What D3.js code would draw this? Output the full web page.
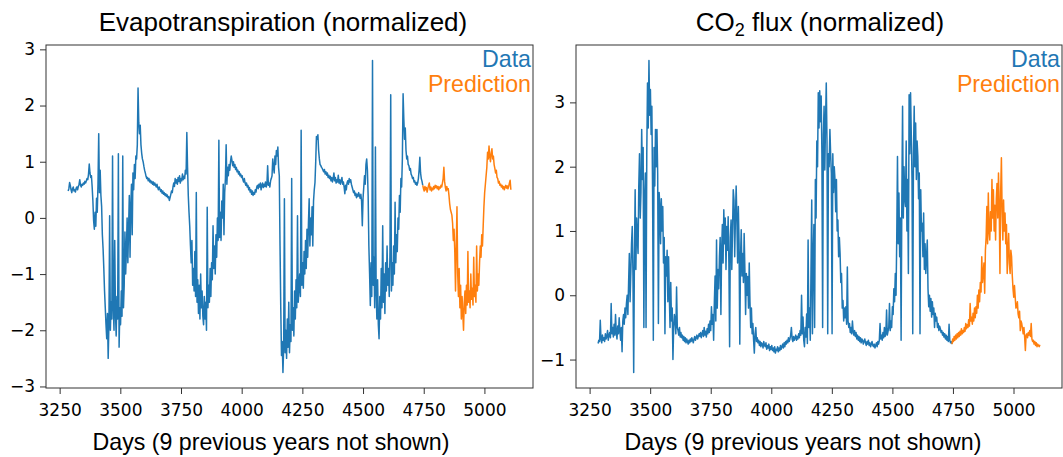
<!DOCTYPE html>
<html lang="en">
<head>
    <meta charset="UTF-8">
    <title>Evapotranspiration and CO2 flux</title>
    <script src="https://d3js.org/d3.v7.min.js"></script>
    <style>
        body { margin: 0; background: #fff; }
        svg text { font-family: "Liberation Sans", Arial, sans-serif; fill: #000; }
    </style>
</head>
<body>
    <div id="chart"></div>
    <script>
        // one value every 3 days
        const step = 3;
        const dataStart = 3285;
        const predStart = 4746;

        const xTicks = [3250, 3500, 3750, 4000, 4250, 4500, 4750, 5000];
        const etYTicks = [-3, -2, -1, 0, 1, 2, 3];
        const co2YTicks = [-1, 0, 1, 2, 3];

        // Evapotranspiration (normalized), observed, days 3285..4746 (20 values = 60 days per row)
        const etData = [
            0.48, 0.52, 0.63, 0.58, 0.50, 0.45, 0.52, 0.55, 0.48, 0.50, 0.46, 0.53, 0.55, 0.50, 0.56, 0.60, 0.68, 0.58, 0.55, 0.60,
            0.58, 0.62, 0.60, 0.65, 0.62, 0.66, 0.70, 0.68, 0.78, 0.96, 0.80, 0.72, 0.75, 0.55, 0.30, -0.05, -0.20, 0.10, -0.15, 0.35,
            0.10, 0.60, 1.50, 0.45, 0.85, 0.40, 0.20, -0.30, -0.55, -0.90, -1.30, -1.60, -1.90, -2.15, -1.70, -2.50, -1.90, 0.04, -2.00, -1.50,
            -1.80, 1.10, -1.60, -2.00, -0.40, -1.70, -2.10, -1.40, -1.80, 1.14, -2.30, -1.60, -1.90, -1.30, -1.75, 1.10, -1.60, -1.20, -0.25, -1.00,
            -0.60, 0.00, -0.80, -0.20, 0.40, -0.70, 0.20, 0.60, -0.30, 0.80, 0.50, 0.95, 0.70, 1.10, 1.05, 1.30, 2.31, 1.70, 1.50, 1.65,
            1.30, 1.15, 1.05, 1.00, 0.92, 0.85, 0.80, 0.74, 0.70, 0.72, 0.66, 0.70, 0.64, 0.67, 0.62, 0.65, 0.60, 0.64, 0.58, 0.62,
            0.58, 0.55, 0.60, 0.54, 0.50, 0.55, 0.52, 0.47, 0.50, 0.44, 0.48, 0.42, 0.45, 0.40, 0.43, 0.38, 0.41, 0.36, 0.38, 0.31,
            0.36, 0.42, 0.48, 0.45, 0.55, 0.62, 0.56, 0.70, 0.62, 0.68, 0.60, 0.72, 0.65, 0.75, 0.62, 0.70, 0.66, 0.78, 0.68, 0.74,
            0.70, 0.85, 0.78, 1.52, 0.90, 0.40, 0.10, -0.15, -0.50, -0.80, -0.40, -1.20, -0.90, -1.30, -0.60, -1.40, 0.45, -1.50, -1.10, -1.70,
            -1.20, -1.80, -1.00, -1.60, -1.30, -1.75, -1.90, -1.40, -1.80, -1.50, -2.00, 0.19, -1.60, -1.20, -1.50, -0.90, -1.40, -0.80, -1.10, -0.14,
            -0.90, -0.50, -1.00, -0.30, -0.70, 0.00, -0.40, 1.38, -0.35, 0.10, -0.40, 0.30, 0.00, 0.60, -0.30, 0.45, 0.70, 1.30, 0.60, 0.90,
            0.75, 0.95, 0.85, 1.00, 1.10, 1.02, 0.93, 1.00, 0.90, 0.95, 0.86, 0.90, 0.82, 0.85, 0.78, 0.82, 0.75, 0.78, 0.72, 0.75,
            0.68, 0.64, 0.70, 0.62, 0.58, 0.62, 0.55, 0.58, 0.50, 0.54, 0.46, 0.50, 0.42, 0.48, 0.40, 0.45, 0.42, 0.50, 0.46, 0.55,
            0.58, 0.52, 0.60, 0.55, 0.62, 0.50, 0.58, 0.62, 0.54, 0.60, 0.56, 0.64, 0.55, 0.60, 0.93, 0.58, 0.62, 0.55, 0.66, 0.70,
            0.75, 1.05, 0.90, 0.80, 1.10, 0.95, 1.20, 1.10, 1.26, 0.90, 0.75, -0.50, -1.60, -2.45, -2.20, -2.75, -2.30, 0.34, -2.40, -2.00,
            -2.50, -1.80, -2.30, -1.50, -2.40, -1.90, -2.20, 0.70, -2.00, -1.60, -2.10, -1.30, -1.80, -1.10, -1.60, 0.04, -1.50, -1.25, -1.00, -1.40,
            1.56, -1.20, -0.80, -1.25, -0.60, -1.00, -0.40, -0.90, -0.20, -0.70, -0.10, 0.34, -0.50, 0.00, -0.30, 0.20, -0.50, 0.30, 0.50, 0.63,
            1.00, 1.45, 1.40, 1.48, 1.20, 1.05, 0.95, 0.93, 0.90, 0.88, 0.85, 0.82, 0.86, 0.78, 0.82, 0.76, 0.80, 0.72, 0.76, 0.70,
            0.74, 0.66, 0.72, 0.64, 0.70, 0.80, 0.66, 0.72, 0.62, 0.68, 0.64, 0.76, 0.62, 0.68, 0.60, 0.66, 0.72, 0.60, 0.64, 0.55,
            0.43, 0.58, 0.50, 0.62, 0.66, 0.60, 0.70, 0.64, 0.68, 0.60, 0.55, 0.50, 0.45, 0.48, 0.40, 0.44, 0.36, 0.42, 0.38, 0.45,
            0.40, 0.35, 0.42, 0.30, -0.14, 0.35, 0.55, 0.75, 0.60, 0.95, 1.05, 0.85, 0.40, -0.50, -1.00, -1.56, -0.80, -1.40, 2.80, -1.20,
            -0.70, -1.60, 1.26, -1.30, -1.80, -1.10, -1.90, -2.15, -1.40, -1.80, -0.90, -1.60, -0.14, -1.50, -1.00, -1.70, -0.80, -1.30, -0.50, -1.20,
            -0.90, -1.40, -0.60, 2.19, -1.30, -0.80, -1.20, -0.50, -1.00, 0.28, -0.80, -0.30, -0.60, 0.00, -0.20, 0.40, 0.10, 0.70, 0.55, 1.05,
            2.21, 1.76, 1.40, 1.60, 1.20, 1.05, 1.10, 0.95, 0.93, 0.85, 0.88, 0.78, 0.75, 0.70, 0.72, 0.64, 0.66, 0.60, 0.63, 0.58,
            0.62, 0.70, 0.85, 1.08, 0.80, 0.70, 0.65, 0.58
        ];
        // Evapotranspiration, prediction, days 4746..5109
        const etPred = [
            0.58, 0.52, 0.48, 0.56, 0.50, 0.54, 0.46, 0.52, 0.58, 0.62, 0.50, 0.55, 0.48, 0.53, 0.50, 0.56, 0.52, 0.58, 0.54, 0.57,
            0.52, 0.56, 0.50, 0.55, 0.53, 0.58, 0.55, 0.62, 0.70, 0.90, 0.65, 0.55, 0.48, 0.56, 0.50, 0.52, 0.40, 0.25, 0.15, 0.10,
            0.05, -0.10, -0.40, -0.20, -0.60, -1.30, -0.50, 0.20, -1.00, -1.40, -0.90, -1.60, -1.20, -1.80, -1.40, -1.70, -2.00, -1.50, -1.30, -1.70,
            -1.20, -1.55, -0.60, -1.50, -1.30, -1.60, -1.00, -1.45, -1.25, -1.55, -0.70, -1.40, -1.20, -1.50, -0.50, -1.30, -1.00, -1.20, -0.80, -0.50,
            -0.70, -0.30, -0.50, -0.14, 0.20, 0.45, 0.60, 0.75, 0.90, 1.17, 1.05, 1.28, 1.10, 1.00, 1.15, 1.23, 1.05, 1.10, 0.95, 0.88,
            0.80, 0.85, 0.72, 0.70, 0.62, 0.65, 0.58, 0.60, 0.55, 0.58, 0.52, 0.56, 0.50, 0.55, 0.58, 0.53, 0.57, 0.52, 0.56, 0.62,
            0.67, 0.50
        ];

        // CO2 flux (normalized), observed, days 3285..4746
        const co2Data = [
            -0.75, -0.70, -0.72, -0.39, -0.68, -0.74, -0.62, -0.70, -0.66, -0.72, -0.60, -0.68, -0.64, -0.55, -0.70, -0.62, -0.58, -0.66, -0.13, -0.60,
            -0.50, -0.65, -0.45, -0.62, -0.30, -0.58, -0.68, -0.48, -0.60, -0.35, -0.55, -0.70, -0.50, -0.88, -0.40, -0.30, -0.45, -0.20, -0.35, -0.13,
            0.00, -0.30, 0.20, 0.65, -0.10, 0.34, 0.80, 1.07, 0.30, -1.20, 0.60, 1.64, 0.40, 1.20, 0.90, 0.65, 1.70, 2.20, 1.20, 1.60,
            2.58, 1.80, 2.30, -0.50, 1.50, 1.90, -0.50, 2.20, 3.30, 2.60, 3.65, 2.80, 3.20, 2.50, 2.94, 1.60, -0.70, 2.30, 1.70, 2.58,
            2.00, 2.58, 1.90, -0.44, 1.60, 1.38, 0.80, 1.50, 1.00, 1.38, 0.50, 0.90, -0.60, 0.60, 0.30, 0.70, -0.10, 0.60, 0.00, -0.50,
            0.20, -0.40, -0.20, -1.00, -0.50, -0.30, -0.40, -0.60, 0.13, -0.50, -0.55, -0.62, -0.50, -0.65, -0.58, -0.66, -0.62, -0.70, -0.64, -0.72,
            -0.66, -0.74, -0.68, -0.72, -0.76, -0.70, -0.74, -0.68, -0.72, -0.66, -0.70, -0.74, -0.68, -0.64, -0.70, -0.66, -0.62, -0.68, -0.64, -0.60,
            -0.64, -0.58, -0.66, -0.60, -0.55, -0.64, -0.50, -0.62, -0.56, -0.65, -0.52, -0.60, -0.45, -0.58, -0.40, -0.55, -0.18, -0.45, -0.30, -0.70,
            -0.10, 0.30, -0.40, 0.86, -0.20, 0.40, 0.10, 0.60, 0.90, -0.30, 0.70, 1.10, 0.50, 1.33, 0.80, 1.20, 0.40, 1.07, 0.70, 1.22,
            0.50, -0.80, 0.90, 1.17, 0.40, 1.00, 1.64, 1.48, 0.60, 1.20, 1.70, 1.17, 0.50, 1.38, 0.80, -0.76, 0.60, 1.02, 0.30, 0.65,
            0.20, 0.96, 0.40, -0.30, 0.34, 0.00, 0.29, -0.20, 0.50, -0.10, -0.50, -0.20, -0.60, -0.44, -0.70, -0.90, -0.60, -0.50, -0.72, -0.66,
            -0.74, -0.70, -0.78, -0.72, -0.80, -0.74, -0.76, -0.82, -0.72, -0.78, -0.80, -0.74, -0.84, -0.78, -0.82, -0.76, -0.86, -0.80, -0.84, -0.78,
            -0.86, -0.82, -0.88, -0.80, -0.90, -0.84, -0.86, -0.80, -0.88, -0.82, -0.86, -0.78, -0.84, -0.80, -0.76, -0.82, -0.74, -0.80, -0.72, -0.76,
            -0.70, -0.74, -0.66, -0.72, -0.68, -0.62, -0.50, -0.68, -0.72, -0.64, -0.70, -0.66, -0.62, -0.70, -0.64, -0.68, -0.60, -0.66, -0.55, -0.62,
            0.00, -0.60, -0.34, -0.70, -0.80, -0.50, -0.65, -0.29, -0.75, 0.86, -0.50, -0.20, -0.70, 0.40, 1.48, -0.60, 0.60, 1.10, -0.50, 1.80,
            1.20, 2.40, 2.00, 3.15, 2.60, 3.18, 2.70, 3.10, 2.20, -0.50, 2.50, 2.94, 1.95, 2.70, 3.30, 2.40, -0.60, 2.20, 2.00, 2.58,
            2.20, 1.90, -0.60, 2.20, 1.60, 2.00, 1.80, 1.30, 1.80, 1.00, 1.17, 0.60, 0.90, 0.65, 0.20, 0.34, -0.20, -0.08, -0.40, -0.20,
            -0.35, -0.18, -0.45, 0.44, -0.40, -0.50, -0.44, -0.58, -0.50, -0.60, -0.40, -0.56, -0.62, -0.55, -0.64, -0.58, -0.68, -0.62, -0.70, -0.64,
            -0.72, -0.66, -0.74, -0.68, -0.70, -0.76, -0.72, -0.68, -0.74, -0.78, -0.72, -0.76, -0.70, -0.78, -0.74, -0.80, -0.76, -0.72, -0.78, -0.80,
            -0.76, -0.82, -0.78, -0.74, -0.80, -0.72, -0.76, -0.70, -0.44, -0.68, -0.62, -0.70, -0.58, -0.66, -0.50, -0.64, -0.60, -0.23, -0.62, -0.56,
            -0.50, -0.13, -0.55, -0.40, -0.50, -0.18, -0.30, 0.10, -0.10, 0.34, 0.00, 0.90, 2.16, 0.80, 1.59, 0.60, 1.20, -0.70, 1.50, 2.94,
            1.20, 2.00, 1.50, 1.38, 2.40, 1.00, 1.80, 0.34, 3.12, 2.20, 3.15, 2.50, 1.80, -0.60, 2.20, 2.94, 2.00, 2.68, 1.80, 2.40,
            2.16, 1.50, 1.90, -0.60, 1.64, 1.00, 1.12, 0.60, 1.28, 0.40, 0.80, 0.34, 0.60, 0.86, 0.10, -0.18, 0.00, -0.25, -0.05, -0.34,
            -0.10, -0.30, -0.20, -0.50, -0.28, -0.40, -0.34, -0.50, -0.44, -0.55, -0.48, -0.52, -0.58, -0.55, -0.62, -0.58, -0.65, -0.60, -0.68, -0.62,
            -0.70, -0.64, -0.72, -0.45, -0.70, -0.74, -0.72, -0.76
        ];
        // CO2 flux, prediction, days 4746..5109
        const co2Pred = [
            -0.76, -0.68, -0.72, -0.64, -0.70, -0.62, -0.68, -0.60, -0.66, -0.58, -0.64, -0.56, -0.62, -0.52, -0.60, -0.55, -0.58, -0.50, -0.56, -0.44,
            -0.52, -0.46, -0.50, -0.38, -0.48, -0.13, -0.40, -0.34, -0.45, -0.28, -0.40, -0.20, -0.35, -0.18, -0.28, 0.00, -0.20, 0.08, -0.10, 0.20,
            0.05, 0.60, 0.20, 0.34, 0.50, 0.03, 0.70, 0.90, 1.38, 0.80, 1.59, 1.00, 0.86, 1.30, 1.00, 1.80, 1.20, 1.64, 1.00, 1.40,
            0.86, 1.50, 1.74, 1.20, 1.90, 1.40, 0.34, 1.60, 2.14, 1.30, 0.86, 1.48, 1.00, 1.28, 0.80, 1.10, 0.34, 0.70, 0.96, 0.50,
            0.34, 0.70, 0.60, 0.30, 0.10, -0.03, 0.15, -0.03, -0.20, -0.18, -0.10, -0.29, -0.35, -0.25, -0.55, -0.40, -0.44, -0.52, -0.60, -0.50,
            -0.65, -0.86, -0.62, -0.60, -0.66, -0.58, -0.62, -0.55, -0.64, -0.44, -0.68, -0.72, -0.70, -0.76, -0.72, -0.78, -0.74, -0.80, -0.76, -0.78,
            -0.80, -0.77
        ];

        const width = 1063, height = 457;
        const plotTop = 45, plotBottom = 388;
        const blue = "#1f77b4", orange = "#ff7f0e";

        const svg = d3.select("#chart").append("svg")
            .attr("width", width)
            .attr("height", height);

        function toPoints(vals, start) {
            return vals.map((v, i) => [start + i * step, v]);
        }

        function drawPanel(p) {
            const obs = toPoints(p.data, dataStart);
            const pred = toPoints(p.pred, predStart);
            const all = obs.concat(pred);

            // 5% margins around the data, as matplotlib does
            const xe = d3.extent(all, d => d[0]);
            const ye = d3.extent(all, d => d[1]);
            const xp = (xe[1] - xe[0]) * 0.05, yp = (ye[1] - ye[0]) * 0.05;

            const x = d3.scaleLinear().domain([xe[0] - xp, xe[1] + xp]).range([p.left, p.right]);
            const y = d3.scaleLinear().domain([ye[0] - yp, ye[1] + yp]).range([plotBottom, plotTop]);

            const g = svg.append("g");
            const line = d3.line().x(d => x(d[0])).y(d => y(d[1]));

            g.append("path").datum(obs)
                .attr("fill", "none").attr("stroke", blue)
                .attr("stroke-width", 1.5).attr("stroke-linejoin", "round")
                .attr("d", line);
            g.append("path").datum(pred)
                .attr("fill", "none").attr("stroke", orange)
                .attr("stroke-width", 1.5).attr("stroke-linejoin", "round")
                .attr("d", line);

            // axes (tick labels in DejaVu Sans)
            const xAxis = g.append("g")
                .attr("transform", `translate(0,${plotBottom})`)
                .call(d3.axisBottom(x).tickValues(xTicks).tickSize(6).tickPadding(9.6).tickFormat(d3.format("d")));
            const yAxis = g.append("g")
                .attr("transform", `translate(${p.left},0)`)
                .call(d3.axisLeft(y).tickValues(p.yTicks).tickSize(6).tickPadding(5).tickFormat(d3.format("d")));
            [xAxis, yAxis].forEach(a => {
                a.select(".domain").remove();
                a.selectAll("text").style("font-size", "17px").style("font-family", "DejaVu Sans");
                a.selectAll(".tick line").attr("stroke", "#333").attr("stroke-width", 1);
            });

            // frame
            g.append("rect")
                .attr("x", p.left).attr("y", plotTop)
                .attr("width", p.right - p.left).attr("height", plotBottom - plotTop)
                .attr("fill", "none").attr("stroke", "#333").attr("stroke-width", 1);

            // title
            const t = g.append("text")
                .attr("x", p.titleX).attr("y", 30.5)
                .attr("text-anchor", "middle")
                .style("font-size", "26px");
            p.title(t);

            // x label
            g.append("text")
                .attr("x", p.labelX).attr("y", 450)
                .attr("text-anchor", "middle")
                .style("font-size", "23.2px")
                .text("Days (9 previous years not shown)");

            // legend labels
            g.append("text")
                .attr("x", p.right - 2).attr("y", 67.3)
                .attr("text-anchor", "end")
                .style("font-size", "23.2px").style("fill", blue)
                .text("Data");
            g.append("text")
                .attr("x", p.right - 2).attr("y", 91.7)
                .attr("text-anchor", "end")
                .style("font-size", "23.2px").style("fill", orange)
                .text("Prediction");
        }

        drawPanel({
            left: 46, right: 533, data: etData, pred: etPred, yTicks: etYTicks,
            titleX: 283, labelX: 271,
            title: t => t.text("Evapotranspiration (normalized)")
        });

        drawPanel({
            left: 576, right: 1062, data: co2Data, pred: co2Pred, yTicks: co2YTicks,
            titleX: 820, labelX: 803,
            title: t => {
                t.append("tspan").text("CO");
                t.append("tspan").attr("dy", 5).style("font-size", "18px").text("2");
                t.append("tspan").attr("dy", -5).text(" flux (normalized)");
            }
        });
    </script>
</body>
</html>
